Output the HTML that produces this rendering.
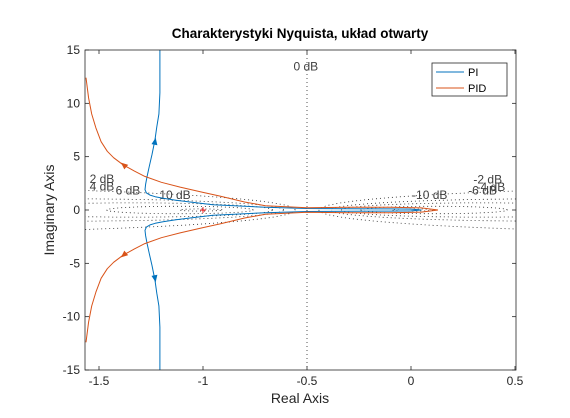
<!DOCTYPE html>
<html><head><meta charset="utf-8"><style>
body{margin:0;background:#fff}
svg{font-family:"Liberation Sans",sans-serif}
</style></head><body>
<svg id="c" width="570" height="413">
<rect width="570" height="413" fill="#fff"/>
<defs><clipPath id="clp"><rect x="85" y="50" width="431" height="320"/></clipPath></defs>
<rect x="85" y="50" width="431" height="320" fill="#fff" stroke="none"/>
<g id="grid" clip-path="url(#clp)"></g>
<g id="series" clip-path="url(#clp)"></g>
<rect x="85" y="50" width="431" height="320" fill="none" stroke="#262626" stroke-width="0.8"/>
<g id="ticks" font-size="12" fill="#262626"></g>
<text x="300" y="38" text-anchor="middle" font-size="13.5" font-weight="bold" fill="#000">Charakterystyki Nyquista, układ otwarty</text>
<text x="300" y="403" text-anchor="middle" font-size="14" fill="#262626">Real Axis</text>
<text transform="translate(54,210) rotate(-90)" text-anchor="middle" font-size="14" fill="#262626">Imaginary Axis</text>
<g>
<rect x="432" y="63" width="75" height="33" fill="#fff" stroke="#262626" stroke-width="0.8"/>
<line x1="436" y1="72" x2="464" y2="72" stroke="#0072BD" stroke-width="1"/>
<text x="468" y="76" font-size="11" fill="#000">PI</text>
<line x1="436" y1="88" x2="464" y2="88" stroke="#D95319" stroke-width="1"/>
<text x="468" y="92" font-size="11" fill="#000">PID</text>
</g>
</svg>
<script>
const xTicks=[-1.5,-1,-0.5,0,0.5];
const xTickLabels=["-1.5","-1","-0.5","0","0.5"];
const yTicks=[15,10,5,0,-5,-10,-15];
const yTickLabels=["15","10","5","0","-5","-10","-15"];
const dbLevels=[-20,-10,-6,-4,-2,2,4,6,10,20];
const dbLabels=[
 {t:"2 dB",x:-1.545,y:2.55},{t:"4 dB",x:-1.545,y:1.85},{t:"6 dB",x:-1.42,y:1.45},{t:"10 dB",x:-1.21,y:1.05},
 {t:"0 dB",x:-0.565,y:13.1},{t:"-2 dB",x:0.3,y:2.5},{t:"-4 dB",x:0.315,y:1.8},{t:"-6 dB",x:0.275,y:1.45},{t:"-10 dB",x:0.005,y:1.05}];
const piRe=[-1.207,-1.207,-1.212,-1.222,-1.231,-1.245,-1.258,-1.269,-1.276,-1.279,-1.272,-1.255,-1.23,-1.192,-1.13,-1.0625,-0.952,-0.85,-0.7,-0.5,-0.3,-0.1,0.0,0.05];
const piIm=[15,11,9,7.8,6.6,5.2,4.1,3.1,2.4,1.9,1.6,1.4,1.25,1.1,0.92,0.75,0.5,0.4,0.25,0.14,0.12,0.1,0.08,0];
const pidRe=[-1.5625,-1.55,-1.535,-1.515,-1.49,-1.46,-1.43,-1.385,-1.33,-1.28,-1.2,-1.11,-1.0,-0.918,-0.8,-0.7,-0.5,-0.3,-0.1,0.05,0.13];
const pidIm=[12.4,10.5,9.0,7.7,6.4,5.5,4.9,4.25,3.65,3.15,2.6,2.15,1.65,1.3,0.75,0.4,0.22,0.25,0.25,0.2,0];
const X=v=>411+v*208, Y=v=>210-v*10.667;
const NS="http://www.w3.org/2000/svg";
function mk(tag,attrs,parent){const e=document.createElementNS(NS,tag);for(const k in attrs)e.setAttribute(k,attrs[k]);parent.appendChild(e);return e;}
const tk=document.getElementById('ticks'), grid=document.getElementById('grid'), ser=document.getElementById('series');
xTicks.forEach((v,i)=>{
 const l=mk('line',{x1:X(v),x2:X(v),y1:370,y2:366,stroke:'#262626','stroke-width':0.8},tk);
 
 
 const l2=mk('line',{x1:X(v),x2:X(v),y1:50,y2:54,stroke:'#262626','stroke-width':0.8},tk);
 
 
 const t=mk('text',{x:X(v),y:385,'text-anchor':'middle'},tk);t.textContent=xTickLabels[i];
 
 
});
yTicks.forEach((v,i)=>{
 const l=mk('line',{x1:85,x2:89,y1:Y(v),y2:Y(v),stroke:'#262626','stroke-width':0.8},tk);
 
 
 const l2=mk('line',{x1:516,x2:512,y1:Y(v),y2:Y(v),stroke:'#262626','stroke-width':0.8},tk);
 
 
 const t=mk('text',{x:80,y:Y(v)+4,'text-anchor':'end'},tk);t.textContent=yTickLabels[i];
 
 
});
const z=mk('line',{x1:X(-0.5),x2:X(-0.5),y1:50,y2:370,stroke:'#262626','stroke-width':0.8,'stroke-dasharray':'1,3'},grid);


dbLevels.forEach(db=>{
 const M=Math.pow(10,db/20), c=-M*M/(M*M-1), r=Math.abs(M/(M*M-1));
 let d='';
 for(let k=0;k<=720;k++){const a=k/720*2*Math.PI;const px=X(c+r*Math.cos(a)),py=Y(r*Math.sin(a));d+=(k?'L':'M')+px.toFixed(1)+','+py.toFixed(1);}
 const p=mk('path',{d:d,fill:'none',stroke:'#262626','stroke-width':0.8,'stroke-dasharray':'1,3'},grid);
 
 
});
dbLabels.forEach(o=>{
 const t=mk('text',{x:X(o.x),y:Y(o.y),'font-size':12,fill:'#404040'},grid);t.textContent=o.t;
 
 
});
function branch(re,im,sign,color,name){
 let d='';re.forEach((v,i)=>{d+=(i?'L':'M')+X(v).toFixed(1)+','+Y(sign*im[i]).toFixed(1);});
 const p=mk('path',{d:d,fill:'none',stroke:color,'stroke-width':1,'stroke-linejoin':'round'},ser);
 
 
}
branch(piRe,piIm,1,'#0072BD','pi-curve-upper');
branch(piRe,piIm,-1,'#0072BD','pi-curve-lower');
branch(pidRe,pidIm,1,'#D95319','pid-curve-upper');
branch(pidRe,pidIm,-1,'#D95319','pid-curve-lower');
function arrow(x,y,ang,color,name){
 const g=mk('polygon',{points:'0,-4 3,3 -3,3',fill:color,transform:`translate(${x},${y}) rotate(${ang})`},ser);
 
 
}
arrow(X(-1.231),Y(6.4),10,'#0072BD','pi-arrow-upper');
arrow(X(-1.231),Y(-6.4),170,'#0072BD','pi-arrow-lower');
arrow(X(-1.38),Y(4.2),-50,'#D95319','pid-arrow-upper');
arrow(X(-1.38),Y(-4.2),-130,'#D95319','pid-arrow-lower');
const cp=mk('text',{x:X(-1),y:Y(0)+4,'text-anchor':'middle','font-size':12,fill:'#e00'},ser);cp.textContent='+';


</script>
</body></html>
